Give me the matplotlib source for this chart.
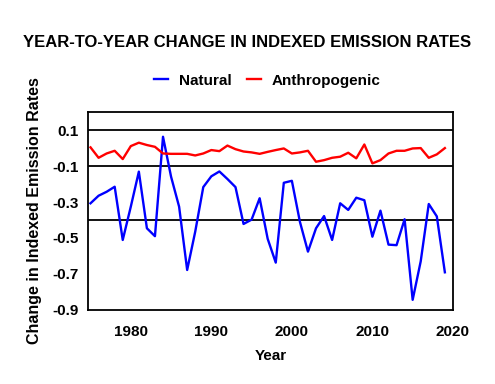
import numpy as np
import matplotlib
matplotlib.use("Agg")
import matplotlib.pyplot as plt

plt.rcParams['font.family'] = ['Liberation Sans', 'DejaVu Sans']
plt.rcParams['font.weight'] = 'bold'

years = np.arange(1975, 2020)
natural = [-0.307, -0.265, -0.243, -0.215, -0.511, -0.326, -0.131, -0.446, -0.49, 0.063,
           -0.159, -0.326, -0.678, -0.465, -0.217, -0.157, -0.13, -0.172, -0.217, -0.422,
           -0.398, -0.279, -0.505, -0.637, -0.193, -0.182, -0.41, -0.576, -0.446, -0.378,
           -0.511, -0.307, -0.344, -0.276, -0.29, -0.493, -0.348, -0.537, -0.54, -0.396,
           -0.844, -0.63, -0.311, -0.38, -0.691]
anthro = [0.004, -0.054, -0.03, -0.015, -0.061, 0.011, 0.03, 0.017, 0.007, -0.03,
          -0.032, -0.032, -0.032, -0.041, -0.03, -0.011, -0.017, 0.014, -0.006, -0.019,
          -0.024, -0.032, -0.021, -0.011, -0.002, -0.03, -0.024, -0.015, -0.076, -0.067,
          -0.054, -0.048, -0.026, -0.057, 0.02, -0.085, -0.067, -0.03, -0.015, -0.015,
          -0.002, 0.0, -0.054, -0.035, 0.0]
ref_lines = [0.1, -0.1, -0.4]
yticks = [0.1, -0.1, -0.3, -0.5, -0.7, -0.9]
xticks = [1980, 1990, 2000, 2010, 2020]

fig = plt.figure(figsize=(4.95, 3.84), dpi=100)
ax = fig.add_axes([0.178, 0.193, 0.737, 0.515])

for y in ref_lines:
    ax.axhline(y, color='black', lw=1.3, zorder=1)
ax.plot(years, natural, color='blue', lw=1.7, label='Natural', zorder=3)
ax.plot(years, anthro, color='red', lw=1.7, label='Anthropogenic', zorder=3)

ax.set_xlim(1974.7, 2020)
ax.set_ylim(-0.9, 0.2)
ax.set_yticks(yticks)
ax.set_yticklabels(['0.1', '-0.1', '-0.3', '-0.5', '-0.7', '-0.9'])
ax.set_xticks(xticks)
ax.tick_params(length=0, labelsize=11, pad=7)
ax.tick_params(axis='x', pad=11)
for s in ax.spines.values():
    s.set_linewidth(1.3)

ax.set_xlabel('Year', fontsize=11, fontweight='bold', labelpad=7)
ax.set_ylabel('Change in Indexed Emission Rates', fontsize=11.5, fontweight='bold', labelpad=7)

fig.text(0.50, 0.89, 'YEAR-TO-YEAR CHANGE IN INDEXED EMISSION RATES',
         ha='center', va='center', fontsize=12, fontweight='bold')
fig.legend(loc='center', bbox_to_anchor=(0.54, 0.79), ncol=2, frameon=False,
           handlelength=0.9, handletextpad=0.7, columnspacing=1.0,
           prop={'size': 11, 'weight': 'bold'})

fig.savefig('out.png', dpi=100)
